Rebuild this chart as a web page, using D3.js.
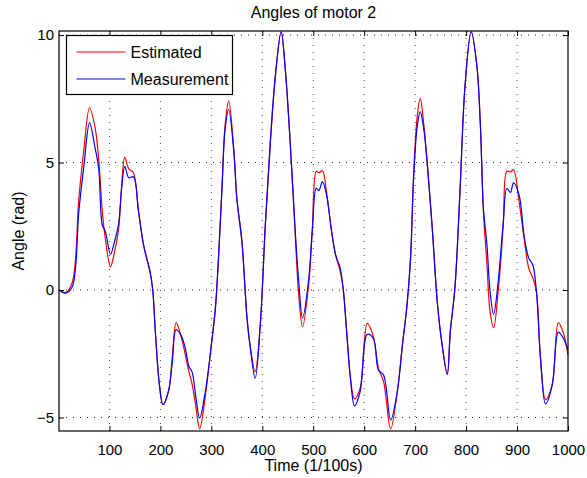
<!DOCTYPE html>
<html>
<head>
<meta charset="utf-8">
<script src="https://cdn.jsdelivr.net/npm/d3@7"></script>
<style>
body { margin: 0; background: #fff; }
svg { font-family: "Liberation Sans", Arial, Helvetica, sans-serif; }
</style>
</head>
<body>
<div id="chart"></div>
<script>
// datos:
const time = [1, 14, 27, 40, 50, 61, 72, 79, 86, 92, 102, 110, 118, 124, 130, 138, 147, 157, 167, 180, 185, 190, 198, 205, 216, 223, 231, 241, 249, 256, 262, 270, 277, 288, 300, 308, 314, 321, 327, 334, 344, 350, 360, 370, 376, 386, 396, 406, 416, 426, 437, 445, 455, 465, 471, 479, 491, 498, 506, 511, 518, 526, 536, 544, 553, 559, 566, 573, 581, 592, 606, 618, 628, 638, 652, 665, 675, 684, 691, 697, 704, 710, 717, 724, 734, 744, 753, 763, 769, 778, 788, 798, 810, 821, 828, 834, 841, 847, 854, 863, 873, 880, 887, 893, 904, 914, 923, 931, 938, 946, 956, 969, 981, 991, 1000]
const estimated = [0, -0.1, 0.3, 3.6, 5.55, 7.15, 6.35, 5.1, 3.1, 2.0, 0.91, 1.5, 2.4, 4.1, 5.2, 4.75, 4.6, 3.1, 1.76, 0.66, 0, -1.6, -3.7, -4.5, -3.98, -2.7, -1.28, -1.85, -2.55, -3.2, -3.66, -4.64, -5.45, -4.2, -2.16, -0.7, 1.25, 4.12, 6.47, 7.41, 5.55, 3.6, 1.9, -1.1, -2.15, -3.2, -1.35, 2.55, 5.82, 8.43, 10.13, 8.69, 5.7, 2.02, -0.05, -1.44, 0.2, 2.3, 4.66, 4.6, 4.68, 3.86, 2.3, 1.37, 0.72, 0, -1.75, -3.45, -4.27, -3.85, -1.31, -1.83, -3.07, -3.59, -5.45, -3.98, -2.16, -0.6, 1.25, 4.51, 6.8, 7.52, 6.5, 4.9, 2.3, -0.6, -2.16, -3.31, -1.63, 0.07, 3.86, 8.04, 10.13, 8.82, 6.47, 3.07, 0.98, -0.85, -1.48, -0.05, 2.55, 4.66, 4.63, 4.72, 3.46, 2.0, 0.85, 0.47, -0.05, -2.67, -4.3, -3.7, -1.28, -1.69, -2.55]
const measurement = [0, -0.12, 0.13, 3.1, 4.9, 6.56, 5.55, 4.77, 2.55, 2.3, 1.4, 1.9, 2.6, 4.0, 4.85, 4.4, 4.44, 3.1, 1.76, 0.7, 0, -1.6, -3.7, -4.5, -3.95, -2.9, -1.55, -1.8, -2.3, -3.0, -3.2, -4.25, -5.03, -4.0, -2.16, -0.7, 1.25, 4.0, 6.3, 7.08, 5.45, 3.6, 1.9, -1.1, -2.2, -3.46, -1.4, 2.6, 5.9, 8.5, 10.13, 8.69, 5.7, 2.2, 0.47, -1.1, 0.4, 2.3, 4.0, 3.9, 4.25, 3.73, 2.3, 1.37, 0.85, 0, -1.75, -3.45, -4.55, -3.98, -1.74, -1.9, -3.14, -3.33, -5.1, -3.98, -2.16, -0.6, 1.25, 4.4, 6.4, 7.0, 6.3, 4.9, 2.3, -0.6, -2.16, -3.31, -1.63, 0.07, 3.86, 8.04, 10.13, 8.82, 6.5, 3.2, 1.76, -0.05, -0.95, 0.33, 2.68, 3.98, 3.83, 4.2, 3.73, 2.1, 1.25, 0.98, -0.05, -2.67, -4.47, -3.73, -1.65, -1.9, -2.35]
const xTicks = [100, 200, 300, 400, 500, 600, 700, 800, 900, 1000]
const yTicks = [-5, 0, 5, 10]
const seriesNames = ["Estimated", "Measurement"]

// Constantes:
const width = 587
const height = 478
const margins = { top: 31, left: 59, right: 19, bottom: 47 }
const eWidth = width - margins.left - margins.right
const eHeight = height - margins.top - margins.bottom
const colors = ["#ff0000", "#0000ff"]

// grupos:
let svg = d3.select('div#chart').append('svg').attr('width', width).attr('height', height)
let elementGroup = svg.append('g').attr('transform', `translate(${margins.left}, ${margins.top})`)
let gridGroup = elementGroup.append('g')
let lineGroup = elementGroup.append('g')
let axisGroup = elementGroup.append('g')

// escalas:
let x = d3.scaleLinear().range([0, eWidth]).domain([1, 1000])
let y = d3.scaleLinear().range([eHeight, 0]).domain([-5.53, 10.16])

// rejilla punteada
gridGroup.selectAll('line.vx').data(xTicks.filter(d => d < 1000)).enter().append('line')
    .attr('x1', d => x(d)).attr('x2', d => x(d)).attr('y1', 0).attr('y2', eHeight)
    .attr('stroke', '#444').attr('stroke-width', 1).attr('stroke-dasharray', '1,6')
gridGroup.selectAll('line.hy').data(yTicks).enter().append('line')
    .attr('x1', 0).attr('x2', eWidth).attr('y1', d => y(d)).attr('y2', d => y(d))
    .attr('stroke', '#222').attr('stroke-width', 1).attr('stroke-dasharray', '1,6')

// lineas
let series = [estimated, measurement]
let line = d3.line().x((d, i) => x(time[i])).y(d => y(d)).curve(d3.curveCatmullRom.alpha(0.5))
lineGroup.selectAll('path').data(series).enter().append('path')
    .attr('d', d => line(d))
    .attr('fill', 'none')
    .attr('stroke', (d, i) => colors[i])
    .attr('stroke-width', 1.2)

// ejes:
let fmt = d3.format('d')
let xAxis = d3.axisBottom(x).tickValues(xTicks).tickSizeInner(-5).tickSizeOuter(0).tickPadding(13).tickFormat(fmt)
let yAxis = d3.axisLeft(y).tickValues(yTicks).tickSizeInner(-5).tickSizeOuter(0).tickPadding(5).tickFormat(fmt)
let xTop = d3.axisTop(x).tickValues(xTicks).tickSizeInner(-5).tickSizeOuter(0).tickFormat('')
let yRight = d3.axisRight(y).tickValues(yTicks).tickSizeInner(-5).tickSizeOuter(0).tickFormat('')

axisGroup.append('g').attr('transform', `translate(0, ${eHeight})`).call(xAxis)
axisGroup.append('g').call(yAxis)
axisGroup.append('g').call(xTop)
axisGroup.append('g').attr('transform', `translate(${eWidth}, 0)`).call(yRight)
axisGroup.selectAll('text').attr('font-size', 15).attr('fill', '#000')
    .attr('font-family', '"Liberation Sans", Arial, sans-serif')
axisGroup.selectAll('.domain').remove()
axisGroup.selectAll('.tick line').attr('stroke', '#000')

elementGroup.append('rect').attr('width', eWidth).attr('height', eHeight)
    .attr('fill', 'none').attr('stroke', '#000').attr('stroke-width', 1.2)

// textos
svg.append('text').attr('x', margins.left + eWidth / 2).attr('y', 18)
    .attr('text-anchor', 'middle').attr('font-size', 16).text('Angles of motor 2')
svg.append('text').attr('x', margins.left + eWidth / 2).attr('y', 471)
    .attr('text-anchor', 'middle').attr('font-size', 16).text('Time (1/100s)')
svg.append('text').attr('transform', `translate(24, ${margins.top + eHeight / 2}) rotate(-90)`)
    .attr('text-anchor', 'middle').attr('font-size', 16).text('Angle (rad)')

// leyenda
let legend = svg.append('g').attr('transform', 'translate(66.5, 35.5)')
legend.append('rect').attr('width', 166).attr('height', 59)
    .attr('fill', '#fff').attr('stroke', '#000').attr('stroke-width', 1.2)
let items = legend.selectAll('g.item').data(seriesNames).enter().append('g')
    .attr('transform', (d, i) => `translate(0, ${16.5 + i * 27})`)
items.append('line').attr('x1', 10).attr('x2', 59).attr('stroke', (d, i) => colors[i]).attr('stroke-width', 1.2)
items.append('text').attr('x', 64).attr('y', 5.5).attr('font-size', 16).text(d => d)
</script>
</body>
</html>
